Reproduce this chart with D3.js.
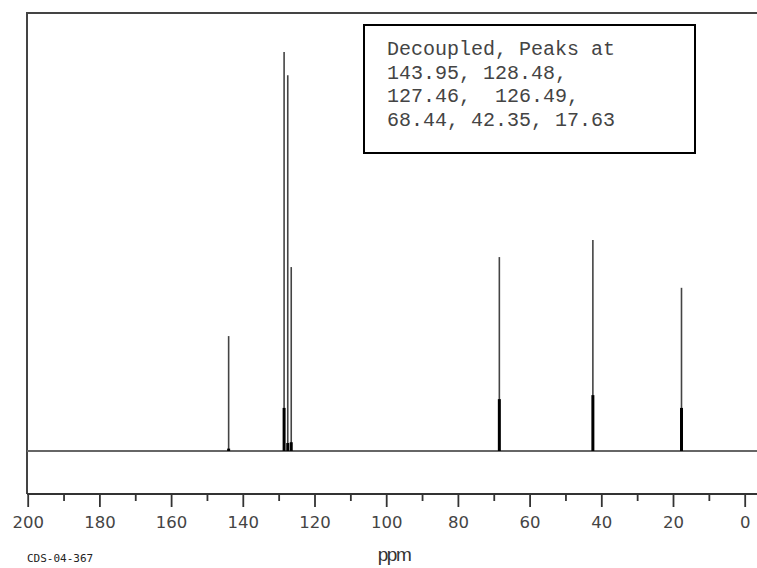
<!DOCTYPE html>
<html lang="en">
<head>
  <meta charset="UTF-8">
  <title>13C NMR spectrum</title>
  <style>
    body { margin: 0; background: #fff; }
  </style>
</head>
<body>
  <svg id="svg" width="757" height="568"></svg>

  <script src="https://d3js.org/d3.v7.min.js"></script>
  <script>
    // peaks (ppm, relative intensity, broad base intensity)
    const peakShifts = [143.95, 128.48, 127.46, 126.49, 68.44, 42.35, 17.63]
    const peakHeights = [28.8, 100, 94.2, 46.1, 48.6, 52.9, 40.9]
    const baseHeights = [0.6, 10.8, 2.0, 2.2, 13.0, 14.0, 10.8]

    const majorTicks = [200, 180, 160, 140, 120, 100, 80, 60, 40, 20, 0]
    const minorTicks = [190, 170, 150, 130, 110, 90, 70, 50, 30, 10]

    const infoLines = [
      'Decoupled, Peaks at',
      '143.95, 128.48,',
      '127.46,  126.49,',
      '68.44, 42.35, 17.63'
    ]

    const peaks = peakShifts.map((d, i) => ({ ppm: d, h: peakHeights[i], base: baseHeights[i] }))

    // CONSTANTS
    const frame = { left: 27, top: 13, right: 757, axis: 494 }
    const baseline = 451

    // ------ SCALES ------------------------
    const xscale = d3.scaleLinear()
      .domain([200, 0])
      .range([27.7, 744.7])

    const yscale = d3.scaleLinear()
      .domain([0, 100])
      .range([baseline, 52])

    const svg = d3.select('#svg')

    // frame (top + left)
    svg.append('path')
      .attr('d', `M${frame.left},${frame.axis} L${frame.left},${frame.top} L${frame.right},${frame.top}`)
      .attr('fill', 'none')
      .attr('stroke', '#444')
      .attr('stroke-width', 2)

    // baseline of the spectrum
    svg.append('line')
      .attr('x1', frame.left)
      .attr('x2', frame.right)
      .attr('y1', baseline)
      .attr('y2', baseline)
      .attr('stroke', '#666')
      .attr('stroke-width', 2)

    // ---------- PEAKS -------------------------------
    const peakGroup = svg.append('g')

    peakGroup.selectAll('line.peak')
      .data(peaks)
      .enter()
      .append('line')
      .attr('class', 'peak')
      .attr('x1', d => xscale(d.ppm))
      .attr('x2', d => xscale(d.ppm))
      .attr('y1', baseline)
      .attr('y2', d => yscale(d.h))
      .attr('stroke', '#444')
      .attr('stroke-width', 1.6)

    // broader lower part of each line
    peakGroup.selectAll('line.base')
      .data(peaks)
      .enter()
      .append('line')
      .attr('class', 'base')
      .attr('x1', d => xscale(d.ppm))
      .attr('x2', d => xscale(d.ppm))
      .attr('y1', baseline)
      .attr('y2', d => yscale(d.base))
      .attr('stroke', '#000')
      .attr('stroke-width', 3)

    // ------ AXES ------------------------
    const bottomAxis = d3.axisBottom(xscale)
      .tickValues(majorTicks)
      .tickSize(13)
      .tickPadding(9)
      .tickFormat(d3.format('d'))

    const axisG = svg.append('g')
      .attr('transform', `translate(0, ${frame.axis})`)
      .call(bottomAxis)

    axisG.select('.domain').remove()
    axisG.append('line')
      .attr('x1', frame.left)
      .attr('x2', frame.right)
      .attr('stroke', '#333')
      .attr('stroke-width', 2)
    axisG.selectAll('.tick line').attr('stroke', '#333').attr('stroke-width', 1.8)
    axisG.selectAll('.tick text')
      .attr('fill', '#444')
      .style('font-family', 'DejaVu Sans')
      .style('font-size', '16.5px')

    const minorAxis = d3.axisBottom(xscale)
      .tickValues(minorTicks)
      .tickSize(7)
      .tickFormat('')

    const minorG = svg.append('g')
      .attr('transform', `translate(0, ${frame.axis})`)
      .call(minorAxis)
    minorG.select('.domain').remove()
    minorG.selectAll('.tick line').attr('stroke', '#333').attr('stroke-width', 1.8)

    // axis label
    svg.append('text')
      .attr('x', 394)
      .attr('y', 561)
      .attr('text-anchor', 'middle')
      .attr('fill', '#333')
      .style('font-family', 'Liberation Sans')
      .style('font-size', '19px')
      .style('letter-spacing', '-1.5px')
      .text('ppm')

    // spectrum id
    svg.append('text')
      .attr('x', 27)
      .attr('y', 562)
      .attr('fill', '#222')
      .style('font-family', 'DejaVu Sans Mono')
      .style('font-size', '11px')
      .text('CDS-04-367')

    // ------ INFO BOX ------------------------
    svg.append('rect')
      .attr('x', 364)
      .attr('y', 25)
      .attr('width', 331)
      .attr('height', 128)
      .attr('fill', '#fff')
      .attr('stroke', '#000')
      .attr('stroke-width', 2)

    svg.append('g')
      .selectAll('text')
      .data(infoLines)
      .enter()
      .append('text')
      .attr('x', 387)
      .attr('y', (d, i) => 55 + i * 23.5)
      .attr('fill', '#444')
      .attr('xml:space', 'preserve')
      .style('white-space', 'pre')
      .style('font-family', 'Liberation Mono')
      .style('font-size', '20px')
      .text(d => d)
  </script>
</body>
</html>
